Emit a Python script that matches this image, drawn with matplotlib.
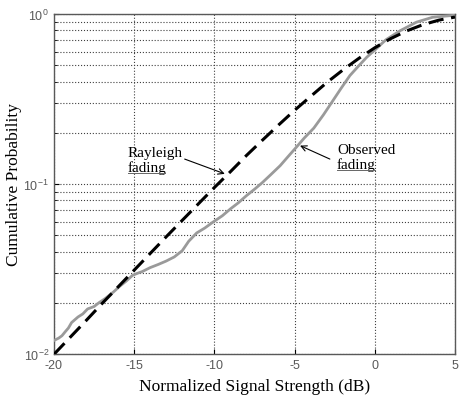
import numpy as np
import matplotlib
matplotlib.use('Agg')
from matplotlib import pyplot as plt
from matplotlib.ticker import LogLocator, NullFormatter

plt.rcParams['axes.unicode_minus'] = False

# Rayleigh fading curve
rayleigh_db = [-20, -19, -18, -17, -16, -15, -14, -13, -12, -11, -10, -9, -8,
               -7, -6, -5, -4, -3, -2, -1, 0, 1, 2, 3, 4, 5]
rayleigh_p = [0.00995, 0.0125, 0.0157, 0.0198, 0.0248, 0.0311, 0.0390, 0.0489,
              0.0611, 0.0763, 0.0952, 0.118, 0.147, 0.181, 0.222, 0.271, 0.327,
              0.394, 0.467, 0.547, 0.632, 0.716, 0.795, 0.864, 0.919, 0.958]

# Observed fading curve
observed_db = [-20, -19.7, -19.5, -19.3, -19.1, -18.9, -18.5, -18.2, -17.9, -17.5,
               -17.2, -16.8, -16.3, -15.9, -15.5, -15.1, -14.8, -14.5, -14.0,
               -13.5, -13.0, -12.5, -12.0, -11.6, -11.1, -10.6, -10.1, -9.5,
               -9.0, -8.5, -8.0, -7.5, -7.0, -6.5, -5.9, -5.4, -4.9, -4.4, -3.8,
               -3.2, -2.7, -2.1, -1.55, -1.0, -0.5, 0.1, 0.7, 1.6, 2.6, 3.6, 4.9]
observed_p = [0.0120, 0.0124, 0.0128, 0.0135, 0.0142, 0.0153, 0.0165, 0.0172,
              0.0184, 0.0190, 0.0200, 0.0212, 0.0231, 0.0250, 0.0268, 0.0290,
              0.0298, 0.0305, 0.0322, 0.0336, 0.0352, 0.0372, 0.0405, 0.0460,
              0.0515, 0.0550, 0.0595, 0.0650, 0.0713, 0.0775, 0.0853, 0.0930,
              0.102, 0.113, 0.128, 0.145, 0.164, 0.186, 0.213, 0.255, 0.300,
              0.365, 0.434, 0.495, 0.556, 0.625, 0.705, 0.798, 0.894, 0.955,
              0.980]

serif = ['Liberation Serif', 'DejaVu Serif']
sans = ['Liberation Sans', 'DejaVu Sans']

fig = plt.figure(figsize=(4.61, 4.02), dpi=100)
ax = fig.add_axes([0.117, 0.117, 0.870, 0.846])

ax.semilogy(observed_db, observed_p, color='#9a9a9a', lw=2.0, zorder=3)
ax.semilogy(rayleigh_db, rayleigh_p, color='black', lw=2.2,
            dashes=(5, 2.5), zorder=4)

ax.set_xlim(-20, 5)
ax.set_ylim(1e-2, 1)
ax.set_xticks([-20, -15, -10, -5, 0, 5])
ax.yaxis.set_minor_locator(LogLocator(base=10, subs=np.arange(2, 10)))
ax.yaxis.set_minor_formatter(NullFormatter())

ax.grid(True, which='major', linestyle=':', color='0.25', lw=0.8)
ax.grid(True, which='minor', axis='y', linestyle=':', color='0.25', lw=0.8)

ax.tick_params(which='both', direction='in', labelsize=9, labelcolor='0.35')
for lab in ax.get_xticklabels() + ax.get_yticklabels():
    lab.set_family(sans)
for sp in ax.spines.values():
    sp.set_color('0.35')
    sp.set_linewidth(1.0)

ax.set_xlabel('Normalized Signal Strength (dB)', fontsize=12.5, family=serif,
              labelpad=5)
ax.set_ylabel('Cumulative Probability', fontsize=12.5, family=serif,
              labelpad=1)

# annotations
ax.text(-15.4, 0.138, 'Rayleigh\nfading', fontsize=11, family=serif,
        ha='left', va='center', linespacing=1.05, zorder=5)
ax.text(-2.36, 0.144, 'Observed\nfading', fontsize=11, family=serif,
        ha='left', va='center', linespacing=1.05, zorder=5)
ax.plot([-15.4, -13.05], [0.116, 0.116], color='0.4', lw=0.7, zorder=5)
ax.plot([-2.36, 0.0], [0.121, 0.121], color='0.4', lw=0.7, zorder=5)

arrow = dict(arrowstyle='->', color='black', lw=0.8, shrinkA=0, shrinkB=0)
ax.annotate('', xy=(-9.35, 0.1146), xytext=(-11.85, 0.140), arrowprops=arrow)
ax.annotate('', xy=(-4.66, 0.168), xytext=(-2.8, 0.140), arrowprops=arrow)

fig.savefig('out.png', dpi=100)
